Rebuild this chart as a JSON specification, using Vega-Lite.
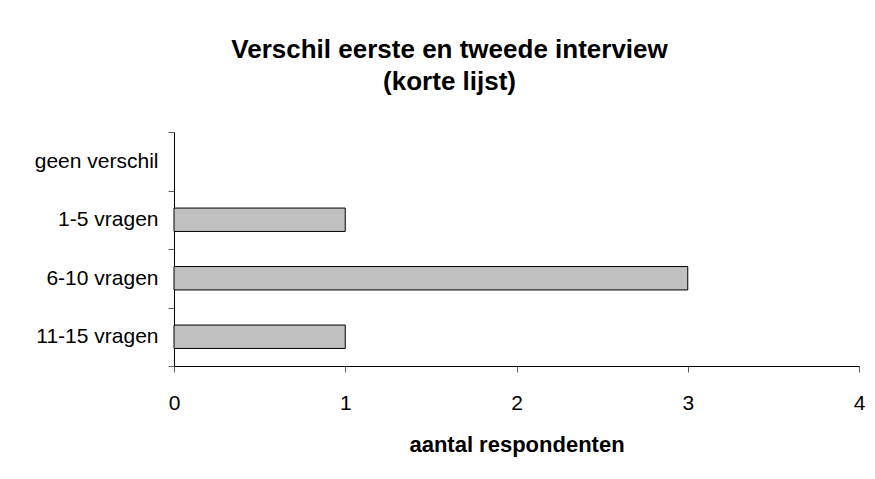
{
  "$schema": "https://vega.github.io/schema/vega-lite/v6.json",
  "width": 685,
  "height": 234,
  "autosize": {"type": "none"},
  "padding": {"left": 174, "top": 132, "right": 16, "bottom": 113},
  "background": "white",
  "title": {
    "text": ["Verschil eerste en tweede interview", "(korte lijst)"],
    "font": "Liberation Sans",
    "fontSize": 26,
    "fontWeight": "bold",
    "color": "black",
    "lineHeight": 32,
    "anchor": "middle",
    "frame": "bounds",
    "offset": 26
  },
  "data": {
    "values": [
      {"categorie": "geen verschil", "aantal": 0},
      {"categorie": "1-5 vragen", "aantal": 1},
      {"categorie": "6-10 vragen", "aantal": 3},
      {"categorie": "11-15 vragen", "aantal": 1}
    ]
  },
  "transform": [{"filter": "datum.aantal > 0"}],
  "mark": {"type": "bar", "fill": "#c0c0c0", "stroke": "black", "strokeWidth": 1, "height": {"band": 0.4}},
  "encoding": {
    "y": {
      "field": "categorie",
      "type": "nominal",
      "sort": ["geen verschil", "1-5 vragen", "6-10 vragen", "11-15 vragen"],
      "scale": {"domain": ["geen verschil", "1-5 vragen", "6-10 vragen", "11-15 vragen"], "paddingInner": 0, "paddingOuter": 0},
      "axis": {
        "title": null,
        "ticks": true,
        "tickBand": "extent",
        "tickSize": 6,
        "tickColor": "#606060",
        "domainColor": "black",
        "labelPadding": 10,
        "labelFont": "Liberation Sans",
        "labelFontSize": 21,
        "labelColor": "black"
      }
    },
    "x": {
      "field": "aantal",
      "type": "quantitative",
      "scale": {"domain": [0, 4]},
      "axis": {
        "title": "aantal respondenten",
        "values": [0, 1, 2, 3, 4],
        "format": "d",
        "grid": false,
        "labelFlush": false,
        "tickSize": 6,
        "tickColor": "#606060",
        "domainColor": "black",
        "labelPadding": 20,
        "labelFont": "Liberation Sans",
        "labelFontSize": 21,
        "labelColor": "black",
        "titleFont": "Liberation Sans",
        "titleFontSize": 22,
        "titleFontWeight": "bold",
        "titleColor": "black",
        "titlePadding": 21
      }
    }
  },
  "config": {"view": {"stroke": null}}
}
